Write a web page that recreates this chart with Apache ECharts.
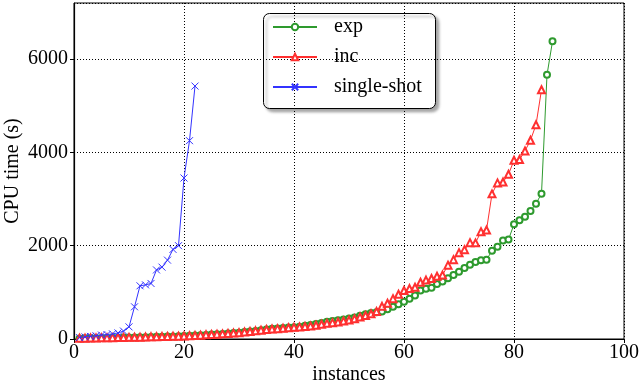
<!DOCTYPE html>
<html>
<head>
<meta charset="utf-8">
<script src="https://cdn.jsdelivr.net/npm/echarts@6/dist/echarts.min.js"></script>
<style>
html,body{margin:0;padding:0;background:#fff;}
#chart{width:640px;height:385px;}
</style>
</head>
<body>
<div id="chart"></div>
<script>
// Series values: CPU time (s) for instance 1..N (sorted)
var expValues = [12,15,17,19,22,24,26,28,30,32,34,37,40,43,46,49,52,55,58,62,
  68,74,81,88,95,102,109,117,126,134,148,160,173,188,203,218,226,236,245,252,
  265,282,300,320,345,370,385,400,420,440,460,500,530,555,575,590,635,690,745,800,
  860,930,1040,1075,1100,1180,1230,1300,1370,1440,1520,1590,1650,1690,1700,1890,1975,2110,2130,2460,
  2545,2620,2745,2900,3115,5660,6380];
var incValues = [15,18,20,22,25,27,29,31,33,35,37,40,43,46,49,52,55,58,61,64,
  70,76,83,90,97,104,110,118,127,135,150,162,175,190,205,215,222,230,240,250,
  258,268,280,295,315,335,350,365,385,405,435,470,505,540,590,700,765,865,960,1040,
  1080,1110,1215,1262,1295,1345,1370,1583,1700,1850,1915,2065,2060,2300,2335,3110,3345,3365,3530,3830,
  3845,4030,4260,4590,5340];
var singleShotValues = [30,45,55,70,85,95,110,130,170,260,690,1140,1160,1190,1480,1540,1690,1920,2000,3450,4250,5420];
var seriesNames = ['exp','inc','single-shot'];
var xTicks = [0,20,40,60,80,100];
var yTicks = [0,2000,4000,6000];

function toPairs(vals){ return vals.map(function(v,i){ return [i+1, v]; }); }

var serif = '"Liberation Serif","DejaVu Serif",serif';
var chart = echarts.init(document.getElementById('chart'), null, {renderer:'canvas'});
var xMark = 'path://M0,0L10,10M0,10L10,0';

chart.setOption({
  animation:false,
  backgroundColor:'#fff',
  grid:{left:74,right:16,top:3,bottom:46,containLabel:false,outerBoundsMode:'none',
    show:true,borderColor:'#000',borderWidth:1,backgroundColor:'transparent'},
  xAxis:{
    type:'value',min:0,max:100,interval:20,
    name:'instances',nameLocation:'middle',nameGap:26,nameMoveOverlap:false,
    nameTextStyle:{fontFamily:serif,fontSize:20,color:'#000'},
    axisLine:{show:true,lineStyle:{color:'#000',width:1.2}},
    axisTick:{show:true,inside:false,length:4,lineStyle:{color:'#000'}},
    axisLabel:{fontFamily:serif,fontSize:20,color:'#000',margin:4,
      formatter:function(v){ return xTicks.indexOf(v)>=0 ? String(v) : ''; }},
    splitLine:{show:true,lineStyle:{color:'#000',type:[1,2],width:1}}
  },
  yAxis:{
    type:'value',min:0,max:7200,interval:2000,
    name:'CPU time (s)',nameLocation:'middle',nameGap:51,nameRotate:90,nameMoveOverlap:false,
    nameTextStyle:{fontFamily:serif,fontSize:20,color:'#000'},
    axisLine:{show:true,lineStyle:{color:'#000',width:1.2}},
    axisTick:{show:true,inside:false,length:4,lineStyle:{color:'#000'}},
    axisLabel:{fontFamily:serif,fontSize:20,color:'#000',margin:6,showMaxLabel:false,
      formatter:function(v){ return yTicks.indexOf(v)>=0 ? String(v) : ''; }},
    splitLine:{show:true,lineStyle:{color:'#000',type:[1,2],width:1}}
  },
  legend:{
    orient:'vertical',left:272,top:16,
    itemWidth:44,itemHeight:8,itemGap:8,
    padding:0,
    textStyle:{fontFamily:serif,fontSize:20,color:'#000',lineHeight:22,padding:[0,0,0,12]},
    data:seriesNames
  },
  graphic:[{
    type:'rect',left:263,top:13,z:0,zlevel:0,
    shape:{width:172,height:95,r:6},
    style:{fill:'#fff',stroke:'#000',lineWidth:1,shadowBlur:3,shadowOffsetX:3,shadowOffsetY:3,shadowColor:'rgba(0,0,0,0.35)'}
  }],
  series:[
    {name:seriesNames[0],type:'line',data:toPairs(expValues),
      symbol:'emptyCircle',symbolSize:6,
      lineStyle:{color:'#2e9a2e',width:1},
      itemStyle:{color:'#2e9a2e',borderWidth:1},z:3},
    {name:seriesNames[1],type:'line',data:toPairs(incValues),
      symbol:'emptyTriangle',symbolSize:7,
      lineStyle:{color:'#ff3030',width:1},
      itemStyle:{color:'#ff3030',borderWidth:1},z:4},
    {name:seriesNames[2],type:'line',data:toPairs(singleShotValues),
      symbol:xMark,symbolSize:7,
      lineStyle:{color:'#3333ff',width:1},
      itemStyle:{color:'#3333ff',borderColor:'#3333ff',borderWidth:1},z:5}
  ]
});
</script>
</body>
</html>
